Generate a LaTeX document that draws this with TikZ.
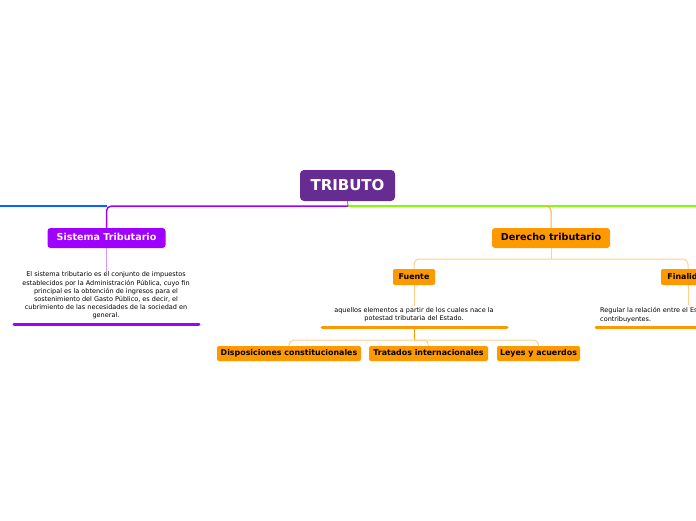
\documentclass[tikz,border=0pt]{standalone}
\usepackage{fontspec}
\setmainfont{DejaVu Sans}
\usepackage{xcolor}
\usetikzlibrary{positioning, calc}
\definecolor{tribpurple}{RGB}{102, 44, 145}
\definecolor{sisviolet}{RGB}{160, 0, 255}
\definecolor{sislite}{RGB}{214, 150, 255}
\definecolor{derorange}{RGB}{255, 153, 0}
\definecolor{derlite}{RGB}{255, 208, 140}
\definecolor{linegreen}{RGB}{128, 255, 0}
\definecolor{lineblue}{RGB}{0, 102, 255}
\definecolor{stubgray}{RGB}{140, 140, 140}
\tikzset{
  rootbox/.style={rectangle, rounded corners=4pt, fill=tribpurple, text=white,
                  minimum width=95pt, minimum height=31pt, inner sep=0pt,
                  font=\fontsize{15}{18}\selectfont\bfseries},
  mainbox/.style={rectangle, rounded corners=3pt, fill=#1,
                  minimum width=118pt, minimum height=20pt, inner sep=0pt,
                  text height=7.2pt, text depth=2pt,
                  font=\fontsize{9.6}{11}\selectfont\bfseries},
  subbox/.style={rectangle, rounded corners=2pt, fill=derorange,
                 minimum width=#1, minimum height=15pt, inner sep=0pt,
                 text height=6pt, text depth=1.6pt,
                 font=\fontsize{7.9}{9}\selectfont\bfseries},
  subbox/.default=40pt,
  desc/.style={inner sep=0pt, font=\fontsize{6.5}{8.2}\selectfont},
  branch/.style={line width=1.5pt},
  link/.style={line width=1pt, rounded corners=5pt},
  underline/.style={line width=3pt, line cap=round},
}
\begin{document}
\begin{tikzpicture}[x=1pt, y=-1pt]
        \useasboundingbox (0,0) rectangle (696,520);
        \clip (0,0) rectangle (696,520);

        % Root
        \node[rootbox] (tributo) at (347.5, 185.5) {TRIBUTO};
        \coordinate (hub) at (348, 206);
        \coordinate (sisjoint) at (107, 206);
        \coordinate (farleft) at (-20, 206);
        \coordinate (derjoint) at (545, 206);
        \coordinate (farright) at (720, 206);

        % Main branches
        \draw[lineblue, branch] (sisjoint) -- (farleft);
        \draw[linegreen, branch] (hub) -- (farright);
        \draw[stubgray, line width=1pt] (tributo.south) -- (hub);

        % Sistema tributario
        \node[mainbox=sisviolet, text=white] (sistema) at (106.5, 238) {Sistema Tributario};
        \draw[sisviolet, branch, rounded corners=5pt] (hub) -| (sistema.north);
        \node[desc, align=center] (sisdesc) at (106, 295.5)
             {El sistema tributario es el conjunto de impuestos\\
              establecidos por la Administración Pública, cuyo fin\\
              principal es la obtención de ingresos para el\\
              sostenimiento del Gasto Público, es decir, el\\
              cubrimiento de las necesidades de la sociedad en\\
              general.};
        \draw[sislite, line width=1pt] (sistema.south) -- (sistema.south |- sisdesc.north);
        \draw[sisviolet, underline] (14, 324) -- (199, 324);

        % Derecho tributario
        \node[mainbox=derorange] (derecho) at (551, 238) {Derecho tributario};
        \draw[derorange!80, link] (derjoint) -| (derecho.north);
        \coordinate (derfork) at (551, 259);
        \draw[derlite, line width=1pt] (derecho.south) -- (derfork);

        % Fuente
        \node[subbox=42pt, minimum height=16pt] (fuente) at (414, 277) {Fuente};
        \draw[derlite, link] (derfork) -| (fuente.north);
        \node[desc, align=center] (fuedesc) at (414, 315)
             {aquellos elementos a partir de los cuales nace la\\
              potestad tributaria del Estado.};
        \draw[derlite, line width=1pt] (fuente.south) -- ($(fuente.south |- fuedesc.north)+(0,-2)$);
        \draw[derorange, underline] (322, 327) -- (507, 327);
        \coordinate (fuefork) at (414, 340);
        \draw[derorange, line width=1pt] (414, 327) -- (fuefork);

        % Children of Fuente
        \node[subbox=144pt] (dispo) at (289, 353.5) {Disposiciones constitucionales};
        \node[subbox=119pt] (tratados) at (428.5, 353.5) {Tratados internacionales};
        \node[subbox=83pt] (leyes) at (538.5, 353.5) {Leyes y acuerdos};
        \draw[derlite, link] (fuefork) -| (dispo.north);
        \draw[derlite, link] (fuefork) -| (tratados.north);
        \draw[derlite, link] (fuefork) -| (leyes.north);

        % Finalidad
        \node[subbox=54pt, minimum height=16pt] (finalidad) at (688, 277) {Finalidad};
        \draw[derlite, link] (derfork) -| (finalidad.north);
        \node[desc, align=left, anchor=west] (findesc) at (600, 315)
             {Regular la relación entre el Estado y los\\
              contribuyentes.};
        \draw[derlite, line width=1pt] (finalidad.south) -- ($(finalidad.south |- findesc.north)+(0,-2)$);
        \draw[derorange, underline] (596, 327) -- (790, 327);
      \end{tikzpicture}
\end{document}
